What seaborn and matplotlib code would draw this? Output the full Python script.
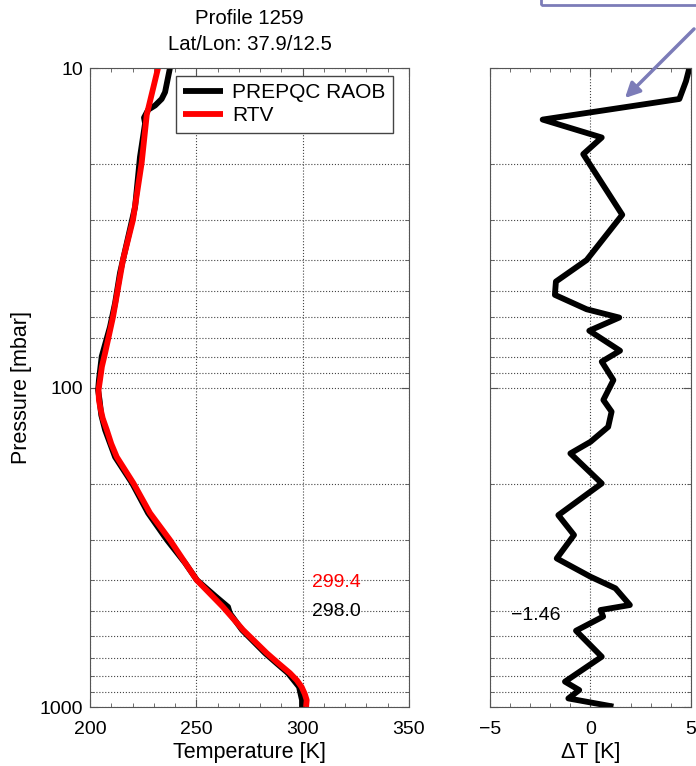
import numpy as np
import pandas as pd
import matplotlib
matplotlib.use('Agg')
import matplotlib.pyplot as plt
from matplotlib import ticker
from matplotlib.patches import Rectangle, FancyArrowPatch
import seaborn as sns

# RAOB profile (pressure in mbar, temperature in K)
raob_p = [10.0, 11.9, 12.5, 13.1, 13.5, 14.3, 14.9, 19.0, 27.2, 43.8, 54.4, 64.6, 80.0,
          94.8, 101.9, 109.4, 122.0, 135.8, 165.0, 199.2, 247.0, 300.0, 354.0, 400.7, 449.0,
          486.0, 509.0, 574.0, 678.0, 730.0, 783.0, 865.0, 951.0, 1000.0]
raob_t = [237.6, 235.3, 233.7, 230.6, 227.4, 225.4, 225.9, 223.5, 221.2, 214.1, 211.8, 209.4, 205.5,
          204.2, 203.8, 204.5, 205.3, 207.1, 211.8, 219.8, 227.3, 236.2, 244.7, 250.3, 258.8,
          264.9, 265.8, 271.5, 282.3, 287.8, 293.1, 298.3, 299.7, 299.7]

# RTV retrieval
rtv_p = [10.0, 14.0, 19.8, 29.9, 39.9, 60.2, 78.0, 86.0, 94.8, 101.9, 109.4, 117.0,
         125.0, 135.8, 150.0, 165.0, 199.2, 247.0, 300.0, 400.7, 486.0, 574.0, 678.0,
         730.0, 783.0, 825.0, 865.0, 910.0, 951.0, 1000.0]
rtv_t = [232.0, 226.7, 224.3, 220.2, 215.5, 210.8, 207.1, 205.6, 204.7, 204.0, 204.2, 205.0,
         206.0, 207.9, 210.0, 212.6, 220.4, 228.2, 237.6, 250.2, 262.5, 272.0, 283.1,
         288.6, 294.0, 297.3, 299.5, 301.0, 301.9, 301.6]

# temperature difference profile
dt_p = [10.0, 11.0, 12.5, 14.5, 16.5, 18.6, 28.8, 39.9, 46.6, 51.3, 56.9, 60.4, 66.4,
        76.7, 83.0, 94.8, 109.4, 119.0, 132.8, 147.9, 160.8, 199.6, 250.9, 289.5,
        342.7, 391.0, 425.0, 479.5, 497.0, 521.0, 577.0, 696.0, 833.0, 885.0, 940.0, 997.0]
dt_val = [4.92, 4.75, 4.42, -2.38, 0.56, -0.36, 1.58, -0.19, -1.72, -1.77, -0.19, 1.43, -0.06,
          1.47, 0.56, 1.14, 0.64, 1.05, 0.88, 0.0, -1.0, 0.56, -1.60, -0.82,
          -1.68, 0.0, 1.24, 1.96, 0.50, 0.63, -0.72, 0.56, -1.27, -0.56, -1.10, 1.14]

title_lines = ['Profile 1259', 'Lat/Lon: 37.9/12.5']
sfc_rtv = '299.4'
sfc_raob = '298.0'
mean_dt = '\u22121.46'

sns.set_style('ticks')
plt.rcParams['font.family'] = ['Liberation Sans', 'DejaVu Sans']
plt.rcParams['axes.edgecolor'] = '#555555'
plt.rcParams['text.color'] = 'black'
plt.rcParams['axes.labelcolor'] = 'black'
plt.rcParams['xtick.labelcolor'] = 'black'
plt.rcParams['ytick.labelcolor'] = 'black'

fig = plt.figure(figsize=(6.96, 7.66), dpi=100)
ax1 = fig.add_axes([0.1293, 0.0770, 0.4583, 0.8342])
ax2 = fig.add_axes([0.7040, 0.0770, 0.2888, 0.8342])

raob = pd.DataFrame({'T': raob_t, 'P': raob_p})
rtv = pd.DataFrame({'T': rtv_t, 'P': rtv_p})
diff = pd.DataFrame({'dT': dt_val, 'P': dt_p})

line_kw = dict(sort=False, estimator=None, lw=4.2, solid_joinstyle='round',
               solid_capstyle='butt')
sns.lineplot(data=raob, x='T', y='P', color='black', ax=ax1, label='PREPQC RAOB', **line_kw)
sns.lineplot(data=rtv, x='T', y='P', color='red', ax=ax1, label='RTV', **line_kw)
sns.lineplot(data=diff, x='dT', y='P', color='black', ax=ax2, legend=False, **line_kw)

grid_kw = dict(ls=':', color='#444444', lw=0.8)
for ax in (ax1, ax2):
    ax.set_yscale('log')
    ax.set_ylim(1000, 10)
    ax.yaxis.set_major_locator(ticker.LogLocator(base=10, numticks=5))
    ax.yaxis.set_minor_locator(ticker.LogLocator(base=10, subs=range(2, 10), numticks=10))
    ax.yaxis.set_minor_formatter(ticker.NullFormatter())
    ax.grid(which='both', axis='y', **grid_kw)
    ax.grid(which='major', axis='x', **grid_kw)
    ax.tick_params(which='both', direction='in', top=True, right=True,
                   color='#555555', labelcolor='black', labelsize=14)
    ax.tick_params(which='major', length=6)
    ax.tick_params(which='minor', length=3)
    ax.tick_params(axis='x', pad=10)
    ax.tick_params(axis='y', pad=5)
    ax.set_ylabel('')

ax1.yaxis.set_major_formatter(ticker.FuncFormatter(lambda v, _: f'{v:g}'))
ax1.set_xlim(200, 350)
ax1.xaxis.set_major_locator(ticker.MultipleLocator(50))
ax1.xaxis.set_minor_locator(ticker.MultipleLocator(10))
ax1.set_xlabel('Temperature [K]', fontsize=15.5)
ax1.xaxis.set_label_coords(0.5, -0.054)
ax1.xaxis.label.set_va('top')

ax2.set_xlim(-5, 5)
ax2.xaxis.set_major_locator(ticker.MultipleLocator(5))
ax2.xaxis.set_minor_locator(ticker.MultipleLocator(1))
ax2.yaxis.set_major_formatter(ticker.NullFormatter())
ax2.set_xlabel('\u0394T [K]', fontsize=15.5)
ax2.xaxis.set_label_coords(0.5, -0.054)
ax2.xaxis.label.set_va('top')

fig.text(22 / 696, 1 - 388 / 766, 'Pressure [mbar]', rotation=90,
         ha='center', va='center', fontsize=15.5)

leg = ax1.legend(loc='upper left', bbox_to_anchor=(0.27, 0.9875), fontsize=15,
                 frameon=True, fancybox=False, framealpha=1, edgecolor='#444444',
                 handlelength=1.9, borderpad=0.35, labelspacing=0.2, handletextpad=0.45,
                 borderaxespad=0)
leg.get_frame().set_linewidth(1.0)
for txt in leg.get_texts():
    txt.set_color('black')

ax1.text(0.697, 0.1956, sfc_rtv, color='red', fontsize=14, transform=ax1.transAxes,
         va='center')
ax1.text(0.697, 0.1487, sfc_raob, color='black', fontsize=14, transform=ax1.transAxes,
         va='center')
ax2.text(0.105, 0.144, mean_dt, color='black', fontsize=14, transform=ax2.transAxes,
         va='center')

fig.text(249.5 / 696, 1 - 18 / 766, title_lines[0], ha='center', va='center', fontsize=14.7)
fig.text(249.5 / 696, 1 - 44 / 766, title_lines[1], ha='center', va='center', fontsize=14.7)

# callout box and arrow at the top right
box_col = '#7c7cb8'
fig.add_artist(Rectangle((541 / 696, 1 - 5 / 766), 0.3, 0.05, transform=fig.transFigure,
                         fill=False, edgecolor=box_col, lw=2))
fig.add_artist(FancyArrowPatch((696 / 696, 1 - 27 / 766), (623 / 696, 1 - 100 / 766),
                               transform=fig.transFigure, arrowstyle='-|>',
                               mutation_scale=22, color=box_col, lw=2.5))

fig.savefig('out.png', dpi=100)
